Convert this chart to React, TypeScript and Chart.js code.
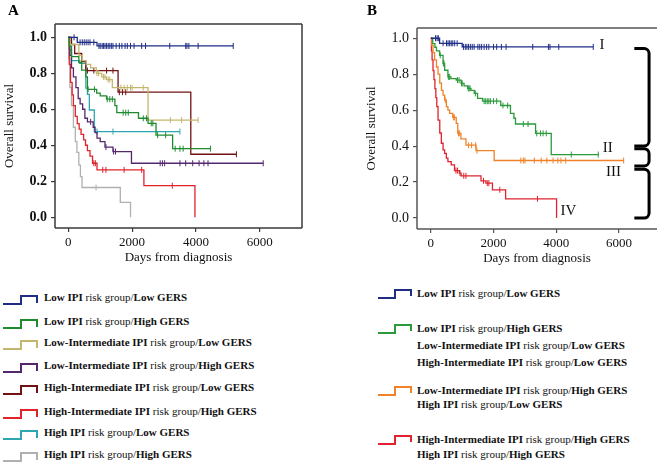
import React, { useEffect, useRef } from 'react';
import { Chart, registerables } from 'chart.js';

Chart.register(...registerables);

const FONT = "'Liberation Serif', 'Times New Roman', serif";

// ---------- Axis ticks ----------
const X_TICKS = [0, 2000, 4000, 6000];
const Y_TICKS = [0, 0.2, 0.4, 0.6, 0.8, 1.0];

// ---------- Panel A: eight IPI x GERS groups (days, survival, censor days) ----------
const aLowLowT = [0, 280, 900, 5170];
const aLowLowS = [1.0, 0.972, 0.952, 0.952];
const aLowLowC = [180, 370, 440, 500, 560, 620, 680, 800, 960, 1000, 1060, 1100, 1150, 1200, 1250, 1300, 1350, 1400, 1500, 1600, 1680, 1780, 1850, 1950, 2060, 2300, 2420, 3180, 3680, 3720, 3780, 4070, 5170];

const aLowHighT = [0, 30, 100, 330, 420, 550, 600, 890, 1000, 1200, 1460, 1520, 2200, 2500, 2750, 3270, 4460];
const aLowHighS = [1.0, 0.95, 0.893, 0.86, 0.818, 0.78, 0.711, 0.69, 0.674, 0.656, 0.62, 0.581, 0.55, 0.522, 0.456, 0.381, 0.381];
const aLowHighC = [620, 820, 1220, 1300, 1380, 1720, 1800, 1880, 2350, 2450, 2600, 2650, 2800, 3050, 3350, 3500, 3600, 4460];

const aLiLowT = [0, 60, 330, 430, 560, 700, 880, 1050, 1200, 1380, 2500, 4070];
const aLiLowS = [1.0, 0.96, 0.9, 0.87, 0.85, 0.83, 0.80, 0.78, 0.765, 0.72, 0.54, 0.54];
const aLiLowC = [900, 950, 1100, 1150, 1250, 1300, 1650, 1750, 1850, 1950, 2000, 2350, 3200, 3550, 4070];

const aLiHighT = [0, 50, 100, 160, 240, 310, 370, 450, 520, 600, 780, 840, 900, 1000, 1150, 1400, 1980, 6110];
const aLiHighS = [1.0, 0.9, 0.83, 0.78, 0.72, 0.66, 0.63, 0.60, 0.55, 0.53, 0.50, 0.47, 0.44, 0.42, 0.39, 0.365, 0.30, 0.30];
const aLiHighC = [700, 1180, 1420, 1480, 2880, 2950, 3020, 3500, 3680, 3900, 4100, 4250, 4380, 6110];

const aHiLowT = [0, 100, 200, 420, 550, 1560, 3840, 5270];
const aHiLowS = [1.0, 0.96, 0.91, 0.865, 0.815, 0.695, 0.35, 0.35];
const aHiLowC = [600, 800, 1200, 1400, 1600, 1700, 1800, 5270];

const aHiHighT = [0, 30, 70, 120, 160, 220, 280, 340, 400, 480, 540, 600, 680, 760, 900, 2370, 3970];
const aHiHighS = [1.0, 0.85, 0.75, 0.68, 0.62, 0.56, 0.52, 0.49, 0.46, 0.43, 0.40, 0.37, 0.34, 0.30, 0.263, 0.175, 0.0];
const aHiHighC = [800, 850, 1080, 1180, 1750, 2300, 3260];

const aHLowT = [0, 30, 100, 360, 550, 600, 660, 815, 3500];
const aHLowS = [1.0, 0.93, 0.87, 0.855, 0.717, 0.683, 0.596, 0.476, 0.476];
const aHLowC = [900, 1400, 3500];

const aHHighT = [0, 20, 50, 100, 160, 220, 270, 330, 380, 430, 1630, 1950];
const aHHighS = [1.0, 0.88, 0.72, 0.62, 0.50, 0.42, 0.36, 0.29, 0.226, 0.165, 0.083, 0.0];
const aHHighC = [870];

// ---------- Panel B: four combined risk groups ----------
const bIT = [0, 280, 1000, 5180];
const bIS = [1.0, 0.972, 0.952, 0.952];
const bIC = [150, 200, 240, 390, 500, 550, 600, 650, 700, 760, 840, 1040, 1100, 1150, 1200, 1260, 1320, 1380, 1500, 1560, 1620, 1700, 1780, 1850, 2000, 2100, 2250, 2400, 3250, 3750, 3800, 4080, 5180];

const bIIT = [0, 60, 130, 180, 280, 390, 440, 545, 640, 810, 965, 1060, 1175, 1280, 1385, 1490, 1650, 2230, 2540, 2650, 2700, 3340, 3840, 5340];
const bIIS = [1.0, 0.97, 0.95, 0.93, 0.905, 0.86, 0.822, 0.785, 0.775, 0.767, 0.749, 0.735, 0.721, 0.71, 0.693, 0.666, 0.65, 0.626, 0.582, 0.555, 0.523, 0.471, 0.353, 0.353];
const bIIC = [300, 400, 420, 560, 600, 850, 900, 980, 1000, 1190, 1220, 1250, 1420, 1700, 1750, 1800, 1850, 1900, 2000, 2100, 2300, 2450, 2950, 3100, 3380, 3500, 3580, 3680, 4480, 5340];

const bIIIT = [0, 30, 70, 120, 180, 230, 285, 340, 390, 440, 495, 545, 600, 700, 810, 860, 960, 1120, 1440, 2020, 6150];
const bIIIS = [1.0, 0.96, 0.92, 0.88, 0.84, 0.80, 0.75, 0.71, 0.684, 0.656, 0.62, 0.60, 0.582, 0.56, 0.527, 0.471, 0.44, 0.405, 0.375, 0.32, 0.32];
const bIIIC = [460, 720, 750, 880, 920, 1200, 1300, 1430, 1470, 2870, 2950, 3000, 3300, 3520, 3700, 3900, 4050, 4150, 4300, 6150];

const bIVT = [0, 20, 40, 70, 100, 130, 160, 190, 230, 285, 335, 390, 440, 495, 545, 650, 755, 910, 965, 1600, 1755, 1965, 2385, 4010];
const bIVS = [1.0, 0.93, 0.88, 0.82, 0.77, 0.72, 0.67, 0.62, 0.545, 0.473, 0.416, 0.379, 0.36, 0.333, 0.314, 0.296, 0.264, 0.25, 0.235, 0.207, 0.194, 0.157, 0.107, 0.0];
const bIVC = [800, 850, 930, 1050, 1120, 1680, 1800, 1850, 2200, 3400];

// ---------- Labels / colours ----------
const COL_A = ['#1f2d86', '#1e8c2e', '#c4b66c', '#55286e', '#721313', '#e0232a', '#2ea6b0', '#b0b0b0'];
const IPI_A = ['Low IPI', 'Low IPI', 'Low-Intermediate IPI', 'Low-Intermediate IPI', 'High-Intermediate IPI', 'High-Intermediate IPI', 'High IPI', 'High IPI'];
const GERS_A = ['Low GERS', 'High GERS', 'Low GERS', 'High GERS', 'Low GERS', 'High GERS', 'Low GERS', 'High GERS'];

const COL_B = ['#1f2d86', '#2a9a3a', '#f08228', '#e0232e'];
const ROMAN = ['I', 'II', 'III', 'IV'];
const GROUP_B_IPI = [['Low IPI'], ['Low IPI', 'Low-Intermediate IPI', 'High-Intermediate IPI'], ['Low-Intermediate IPI', 'High IPI'], ['High-Intermediate IPI', 'High IPI']];
const GROUP_B_GERS = [['Low GERS'], ['High GERS', 'Low GERS', 'Low GERS'], ['High GERS', 'Low GERS'], ['High GERS', 'High GERS']];

// Roman numeral anchors (day, survival) and bracket spans (survival)
const ROMAN_DAY = [5377, 5481, 5586, 4136];
const ROMAN_SURV = [0.961, 0.388, 0.253, 0.037];
const BRACKET_LO = [0.401, 0.29, 0.0];
const BRACKET_HI = [0.943, 0.386, 0.272];
const BRACKET_DAY_L = 6490;
const BRACKET_DAY_R = 6960;

// ---------- helpers ----------
function survAt(times: number[], surv: number[], t: number) {
  let s = surv[0];
  for (let i = 0; i < times.length; i++) {
    if (times[i] <= t) s = surv[i];
    else break;
  }
  return s;
}

function km(label: string, color: string, times: number[], surv: number[], censor: number[]) {
  return [
    {
      type: 'line',
      label,
      data: times.map((t, i) => ({ x: t, y: surv[i] })),
      borderColor: color,
      backgroundColor: color,
      borderWidth: 1.3,
      stepped: true,
      pointRadius: 0,
      fill: false,
    },
    {
      type: 'scatter',
      label: label + ' (censored)',
      data: censor.map((t) => ({ x: t, y: survAt(times, surv, t) })),
      borderColor: color,
      backgroundColor: color,
      pointStyle: 'line',
      rotation: 90,
      pointRadius: 3,
      borderWidth: 1,
      showLine: false,
    },
  ];
}

function framePlugin(sides: { l: boolean; t: boolean; r: boolean; b: boolean }, color: string, lw: number) {
  return {
    id: 'frame',
    afterDatasetsDraw(chart: any) {
      const { ctx, chartArea } = chart;
      const { left, top, right, bottom } = chartArea;
      ctx.save();
      ctx.strokeStyle = color;
      ctx.lineWidth = lw;
      ctx.beginPath();
      if (sides.t) { ctx.moveTo(left, top); ctx.lineTo(right, top); }
      if (sides.r) { ctx.moveTo(right, top); ctx.lineTo(right, bottom); }
      if (sides.b) { ctx.moveTo(left, bottom); ctx.lineTo(right, bottom); }
      if (sides.l) { ctx.moveTo(left, top); ctx.lineTo(left, bottom); }
      ctx.stroke();
      ctx.restore();
    },
  };
}

const bracketPlugin = {
  id: 'brackets',
  afterDraw(chart: any) {
    const { ctx } = chart;
    const xs = chart.scales.x;
    const ys = chart.scales.y;
    ctx.save();
    ctx.strokeStyle = '#000';
    ctx.lineWidth = 3;
    ctx.lineJoin = 'round';
    const xl = xs.getPixelForValue(BRACKET_DAY_L);
    const xr = xs.getPixelForValue(BRACKET_DAY_R);
    const r = 5;
    for (let i = 0; i < BRACKET_LO.length; i++) {
      const y1 = ys.getPixelForValue(BRACKET_HI[i]);
      const y2 = ys.getPixelForValue(BRACKET_LO[i]);
      ctx.beginPath();
      ctx.moveTo(xl, y1);
      ctx.lineTo(xr - r, y1);
      ctx.arcTo(xr, y1, xr, y1 + r, r);
      ctx.lineTo(xr, y2 - r);
      ctx.arcTo(xr, y2, xr - r, y2, r);
      ctx.lineTo(xl, y2);
      ctx.stroke();
    }
    ctx.fillStyle = '#111';
    ctx.font = `15px ${FONT}`;
    ctx.textBaseline = 'middle';
    ctx.textAlign = 'left';
    for (let i = 0; i < ROMAN.length; i++) {
      ctx.fillText(ROMAN[i], xs.getPixelForValue(ROMAN_DAY[i]), ys.getPixelForValue(ROMAN_SURV[i]));
    }
    ctx.restore();
  },
};

function makeScales(o: {
  xmin: number; xmax: number; ymin: number; ymax: number;
  yWidth: number; xHeight: number; yTitlePad: number; xTitlePad: number;
  yBold: boolean; axisColor: string;
}) {
  return {
    x: {
      type: 'linear',
      min: o.xmin,
      max: o.xmax,
      afterFit: (s: any) => { s.height = o.xHeight; },
      afterBuildTicks: (s: any) => { s.ticks = X_TICKS.map((v) => ({ value: v })); },
      ticks: {
        autoSkip: false,
        maxRotation: 0,
        padding: 3,
        color: '#111',
        font: { family: FONT, size: 13 },
        callback: (v: any) => String(v),
      },
      grid: { display: true, drawOnChartArea: false, drawTicks: true, tickLength: 4, color: o.axisColor, lineWidth: 1.2 },
      border: { display: false },
      title: {
        display: true,
        text: 'Days from diagnosis',
        color: '#111',
        font: { family: FONT, size: 13 },
        padding: { top: 0, bottom: o.xTitlePad },
      },
    },
    y: {
      type: 'linear',
      min: o.ymin,
      max: o.ymax,
      afterFit: (s: any) => { s.width = o.yWidth; },
      afterBuildTicks: (s: any) => { s.ticks = Y_TICKS.map((v) => ({ value: v })); },
      ticks: {
        autoSkip: false,
        padding: 4,
        color: '#111',
        font: { family: FONT, size: 14, weight: o.yBold ? 'bold' : 'normal' },
        callback: (v: any) => Number(v).toFixed(1),
      },
      grid: { display: true, drawOnChartArea: false, drawTicks: true, tickLength: 4, color: o.axisColor, lineWidth: 1.2 },
      border: { display: false },
      title: {
        display: true,
        text: 'Overall survival',
        color: '#111',
        font: { family: FONT, size: 13 },
        padding: { top: o.yTitlePad, bottom: 0 },
      },
    },
  };
}

function configA(): any {
  const datasets = [
    ...km('Low IPI risk group/Low GERS', COL_A[0], aLowLowT, aLowLowS, aLowLowC),
    ...km('Low IPI risk group/High GERS', COL_A[1], aLowHighT, aLowHighS, aLowHighC),
    ...km('Low-Intermediate IPI risk group/Low GERS', COL_A[2], aLiLowT, aLiLowS, aLiLowC),
    ...km('Low-Intermediate IPI risk group/High GERS', COL_A[3], aLiHighT, aLiHighS, aLiHighC),
    ...km('High-Intermediate IPI risk group/Low GERS', COL_A[4], aHiLowT, aHiLowS, aHiLowC),
    ...km('High-Intermediate IPI risk group/High GERS', COL_A[5], aHiHighT, aHiHighS, aHiHighC),
    ...km('High IPI risk group/Low GERS', COL_A[6], aHLowT, aHLowS, aHLowC),
    ...km('High IPI risk group/High GERS', COL_A[7], aHHighT, aHHighS, aHHighC),
  ];
  return {
    type: 'line',
    data: { datasets },
    options: {
      animation: false,
      responsive: false,
      maintainAspectRatio: false,
      events: [],
      layout: { padding: { top: 24, right: 18, left: 0, bottom: 0 } },
      plugins: { legend: { display: false }, tooltip: { enabled: false } },
      scales: makeScales({
        xmin: -417, xmax: 7326, ymin: -0.06, ymax: 1.074,
        yWidth: 55, xHeight: 47, yTitlePad: 2, xTitlePad: 10, yBold: true, axisColor: '#3a3a3a',
      }),
    },
    plugins: [framePlugin({ l: true, t: true, r: true, b: true }, '#3a3a3a', 1.5)],
  };
}

function configB(): any {
  const datasets = [
    ...km('I', COL_B[0], bIT, bIS, bIC),
    ...km('II', COL_B[1], bIIT, bIIS, bIIC),
    ...km('III', COL_B[2], bIIIT, bIIIS, bIIIC),
    ...km('IV', COL_B[3], bIVT, bIVS, bIVC),
  ];
  return {
    type: 'line',
    data: { datasets },
    options: {
      animation: false,
      responsive: false,
      maintainAspectRatio: false,
      events: [],
      layout: { padding: { top: 28, right: 2, left: 0, bottom: 0 } },
      plugins: { legend: { display: false }, tooltip: { enabled: false } },
      scales: makeScales({
        xmin: -441, xmax: 7213, ymin: -0.061, ymax: 1.057,
        yWidth: 87, xHeight: 46, yTitlePad: 34, xTitlePad: 9, yBold: false, axisColor: '#555',
      }),
    },
    plugins: [framePlugin({ l: true, t: true, r: false, b: true }, '#555', 1.5), bracketPlugin],
  };
}

// ---------- legend layout ----------
const LEG_A_Y = [297, 321, 342, 365, 387, 411, 432, 454];
const LEG_B_Y = [[293], [328, 345, 362], [390, 404], [439, 454]];

function StepIcon({ x, top, color, w1, w2, h, drop }: { x: number; top: number; color: string; w1: number; w2: number; h: number; drop: number }) {
  return (
    <svg
      style={{ position: 'absolute', left: x - 1, top: top - 1, overflow: 'visible' }}
      width={w1 + w2 + 2}
      height={h + 2}
    >
      <path
        d={`M1 ${h + 1} H${w1 + 1} V1 H${w1 + w2 + 1} V${drop + 1}`}
        fill="none"
        stroke={color}
        strokeWidth={2}
      />
    </svg>
  );
}

function LegendText({ x, cy, ipi, gers }: { x: number; cy: number; ipi: string; gers: string }) {
  return (
    <div
      style={{
        position: 'absolute',
        left: x,
        top: cy - 6.5,
        fontFamily: FONT,
        fontSize: 11,
        lineHeight: '13px',
        color: '#111',
        whiteSpace: 'nowrap',
      }}
    >
      <b>{ipi}</b> risk group/<b>{gers}</b>
    </div>
  );
}

export default function App() {
  const refA = useRef<HTMLCanvasElement>(null);
  const refB = useRef<HTMLCanvasElement>(null);

  useEffect(() => {
    const a = new Chart(refA.current as HTMLCanvasElement, configA());
    const b = new Chart(refB.current as HTMLCanvasElement, configB());
    return () => {
      a.destroy();
      b.destroy();
    };
  }, []);

  return (
    <div style={{ position: 'absolute', left: 0, top: 0, width: 662, height: 464, background: '#fff', overflow: 'hidden' }}>
      <canvas ref={refA} width={320} height={275} style={{ position: 'absolute', left: 0, top: 0 }} />
      <canvas ref={refB} width={332} height={275} style={{ position: 'absolute', left: 330, top: 0 }} />
      <div style={{ position: 'absolute', left: 8, top: 3, fontFamily: FONT, fontWeight: 'bold', fontSize: 15, lineHeight: '15px' }}>A</div>
      <div style={{ position: 'absolute', left: 367, top: 3, fontFamily: FONT, fontWeight: 'bold', fontSize: 15, lineHeight: '15px' }}>B</div>

      {LEG_A_Y.map((cy, i) => (
        <React.Fragment key={'a' + i}>
          <StepIcon x={3} top={cy - 1} color={COL_A[i]} w1={18} w2={16} h={8} drop={7} />
          <LegendText x={44} cy={cy} ipi={IPI_A[i]} gers={GERS_A[i]} />
        </React.Fragment>
      ))}

      {LEG_B_Y.map((rows, g) => (
        <React.Fragment key={'b' + g}>
          <StepIcon x={378} top={rows[0] - 2.6} color={COL_B[g]} w1={17} w2={16} h={8} drop={6} />
          {rows.map((cy, k) => (
            <LegendText key={k} x={417} cy={cy} ipi={GROUP_B_IPI[g][k]} gers={GROUP_B_GERS[g][k]} />
          ))}
        </React.Fragment>
      ))}
    </div>
  );
}
